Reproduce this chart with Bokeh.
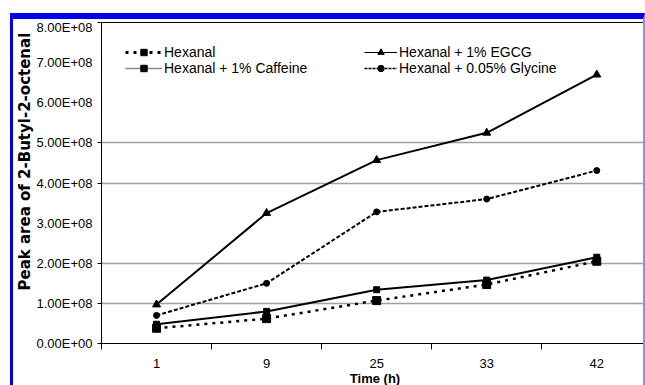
from bokeh.plotting import figure
from bokeh.models import (Range1d, FixedTicker, Legend, LegendItem, Title,
                          ColumnDataSource)
from bokeh.embed import file_html
from bokeh.resources import INLINE

# Sampling times (h) and peak areas of 2-butyl-2-octenal for each treatment
time_labels = ["1", "9", "25", "33", "42"]
hexanal = [0.38e8, 0.62e8, 1.07e8, 1.47e8, 2.05e8]
caffeine = [0.48e8, 0.80e8, 1.34e8, 1.58e8, 2.15e8]
egcg = [0.97e8, 3.25e8, 4.57e8, 5.25e8, 6.70e8]
glycine = [0.70e8, 1.50e8, 3.28e8, 3.60e8, 4.31e8]

series_names = ["Hexanal", "Hexanal + 1% Caffeine",
                "Hexanal + 1% EGCG", "Hexanal + 0.05% Glycine"]

y_ticks = [0, 100000000, 200000000, 300000000, 400000000,
           500000000, 600000000, 700000000, 800000000]
y_tick_labels = ["0.00E+00", "1.00E+08", "2.00E+08", "3.00E+08", "4.00E+08",
                 "5.00E+08", "6.00E+08", "7.00E+08", "8.00E+08"]
y_tick_marks = [0, 100000000, 200000000, 400000000, 500000000, 800000000]
y_gridlines = [100000000, 200000000, 400000000, 500000000]

x_pos = list(range(len(time_labels)))
x_between = [i - 0.5 for i in range(len(time_labels) + 1)]

FONT = "Liberation Sans"

# outer box 635x372 (borders included); the drawing area runs past the
# right and bottom borders, where the page ends
p = figure(width=635, height=372,
           x_range=Range1d(-0.5, 4.47), y_range=Range1d(0, 800000000),
           output_backend="svg", toolbar_location=None,
           min_border_left=88, min_border_top=3, min_border_right=0,
           min_border_bottom=48)
# page frame: blue rules on the top and left, pale rule on the right
p.margin = (13, 0, 0, 10)
p.styles = {"border-top": "6px solid #0000f0",
            "border-left": "3px solid #0000f0",
            "border-right": "2px solid #8c8cff"}
p.background_fill_color = "white"
p.border_fill_color = "white"
p.outline_line_color = "black"
p.outline_line_width = 1

xa = p.below[0]
ya = p.left[0]

# x axis: category labels at the points, tick marks between categories
xa.ticker = FixedTicker(ticks=x_pos, minor_ticks=x_between)
xa.major_label_overrides = {i: lab for i, lab in zip(x_pos, time_labels)}
xa.major_tick_out = 0
xa.major_tick_in = 0
xa.minor_tick_out = 6
xa.minor_tick_in = 0
xa.minor_tick_line_color = "black"
xa.axis_line_color = "black"
xa.major_label_standoff = 9
xa.major_label_text_font = FONT
xa.major_label_text_font_size = "13px"
xa.major_label_text_color = "black"
xa.axis_label = "Time (h)"
xa.axis_label_text_font = FONT
xa.axis_label_text_font_style = "bold"
xa.axis_label_text_font_size = "13px"
xa.axis_label_text_color = "black"
xa.axis_label_standoff = 0
p.xgrid.visible = False

# y axis in scientific notation
ya.ticker = FixedTicker(ticks=y_ticks, minor_ticks=y_tick_marks)
ya.major_label_overrides = {v: lab for v, lab in zip(y_ticks, y_tick_labels)}
ya.major_tick_out = 0
ya.major_tick_in = 0
ya.minor_tick_out = 4
ya.minor_tick_in = 0
ya.minor_tick_line_color = "black"
ya.axis_line_color = "black"
ya.major_label_standoff = 5
ya.major_label_text_font = FONT
ya.major_label_text_font_size = "13px"
ya.major_label_text_color = "black"
p.ygrid.ticker = FixedTicker(ticks=y_gridlines)
p.ygrid.grid_line_color = "#a0a0a0"
p.ygrid.grid_line_width = 1.5

# vertical y-axis title, placed from the lower end of the plot area
p.add_layout(Title(text="Peak area of 2-Butyl-2-octenal", align="left",
                   offset=53, standoff=0, text_font="DejaVu Sans",
                   text_font_style="bold", text_font_size="15px",
                   text_color="black"), "left")

# data series
p.line(x_pos, hexanal, line_color="black", line_width=2.5, line_dash="3 5")
p.scatter(x_pos, hexanal, marker="square", size=8, color="black")
p.line(x_pos, caffeine, line_color="black", line_width=2)
p.scatter(x_pos, caffeine, marker="square", size=6, color="black")
p.line(x_pos, egcg, line_color="black", line_width=2)
p.scatter(x_pos, egcg, marker="triangle", size=8, color="black")
p.line(x_pos, glycine, line_color="black", line_width=2, line_dash="4 2")
p.scatter(x_pos, glycine, marker="circle", size=6, color="black")

# legend swatches (thinner strokes than the plotted series)
nan = float("nan")
swatch = ColumnDataSource(data=dict(x=[nan], y=[nan]))
sw_hex = [p.line("x", "y", source=swatch, line_color="black", line_width=3, line_dash="3 5"),
          p.scatter("x", "y", source=swatch, marker="square", size=9, color="black")]
sw_caf = [p.line("x", "y", source=swatch, line_color="#8a8a8a", line_width=1.5),
          p.scatter("x", "y", source=swatch, marker="square", size=6, color="black")]
sw_egcg = [p.line("x", "y", source=swatch, line_color="black", line_width=1),
           p.scatter("x", "y", source=swatch, marker="triangle", size=6, color="black")]
sw_gly = [p.line("x", "y", source=swatch, line_color="black", line_width=1.5, line_dash="3 1"),
          p.scatter("x", "y", source=swatch, marker="circle", size=5, color="black")]


def make_legend(items, loc, glyph_w):
    leg = Legend(items=items, location=loc, orientation="vertical")
    leg.border_line_color = None
    leg.background_fill_color = "white"
    leg.background_fill_alpha = 1
    leg.label_text_font = FONT
    leg.label_text_font_size = "14px"
    leg.label_text_color = "black"
    leg.glyph_width = glyph_w
    leg.glyph_height = 16
    leg.label_height = 16
    leg.spacing = 0
    leg.padding = 4
    leg.margin = 0
    leg.label_standoff = 2
    return leg


leg1 = make_legend([LegendItem(label=series_names[0], renderers=sw_hex),
                    LegendItem(label=series_names[1], renderers=sw_caf)],
                   (24, 267), 37)
leg2 = make_legend([LegendItem(label=series_names[2], renderers=sw_egcg),
                    LegendItem(label=series_names[3], renderers=sw_gly)],
                   (263, 267), 33)
p.add_layout(leg1)
p.add_layout(leg2)

open("out.html", "w").write(file_html(p, INLINE))
